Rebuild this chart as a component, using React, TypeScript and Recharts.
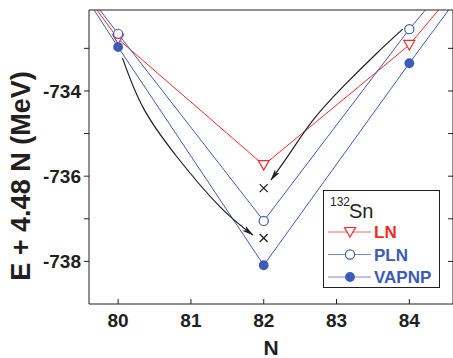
import {
  ComposedChart, Line, Scatter, XAxis, YAxis, Legend,
} from "recharts";

const RED = "#f02a2a";
const BLUE = "#3d5cb4";
const INK = "#231f20";
const FONT = "'Liberation Sans', Arial, sans-serif";

// neutron numbers and energies (MeV)
const N_VALUES = [80, 82, 84];
const LN = [-732.78, -735.74, -732.92];
const PLN = [-732.66, -737.05, -732.55];
const VAPNP = [-732.97, -738.09, -733.35];

// where each curve leaves the frame at the top edge (left, right)
const TOP_E = -732.1;
const LN_EDGE = [79.71, 84.4];
const PLN_EDGE = [79.75, 84.22];
const VAPNP_EDGE = [79.67, 84.54];

// the two "x" marks at N = 82
const CROSS_N = [82, 82];
const CROSS_E = [-736.28, -737.45];

// curved arrows
const ARROW1_N = [80.06, 80.34, 80.81, 81.4, 81.85];
const ARROW1_E = [-733.23, -734.38, -735.55, -736.72, -737.38];
const ARROW2_N = [83.91, 83.55, 83.09, 82.68, 82.36, 82.1];
const ARROW2_E = [-732.55, -733.12, -733.9, -734.68, -735.46, -736.09];

const X_TICKS = [80, 81, 82, 83, 84];
const Y_TICKS = [-738, -737, -736, -735, -734, -733];
const X_DOMAIN = [79.6, 84.6];
const Y_DOMAIN = [-739, -732.1];

const pts = (ns: number[], es: number[]) => ns.map((n, i) => ({ n, e: es[i] }));
const curve = (edge: number[], vals: number[]) => [
  { n: edge[0], e: TOP_E },
  ...pts(N_VALUES, vals),
  { n: edge[1], e: TOP_E },
];

const TriDown = (p: any) => (
  <polygon
    points={`${p.cx - 5.5},${p.cy - 4.5} ${p.cx + 5.5},${p.cy - 4.5} ${p.cx},${p.cy + 5}`}
    fill="#fff" stroke={RED} strokeWidth={1.2}
  />
);
const OpenDot = (p: any) => <circle cx={p.cx} cy={p.cy} r={4.6} fill="#fff" stroke={BLUE} strokeWidth={1.2} />;
const FullDot = (p: any) => <circle cx={p.cx} cy={p.cy} r={4.9} fill={BLUE} />;
const Cross = (p: any) => (
  <g stroke={INK} strokeWidth={1.3}>
    <line x1={p.cx - 4} y1={p.cy - 4} x2={p.cx + 4} y2={p.cy + 4} />
    <line x1={p.cx - 4} y1={p.cy + 4} x2={p.cx + 4} y2={p.cy - 4} />
  </g>
);

const YLabel = () => (
  <text x={21} y={176} transform="rotate(-90 21 176)" textAnchor="middle" dominantBaseline="central"
    fontFamily={FONT} fontWeight="bold" fontSize={27} fill={INK}>
    E + 4.48 N (MeV)
  </text>
);
const XLabel = () => (
  <text x={271} y={355} textAnchor="middle"
    fontFamily={FONT} fontWeight="bold" fontSize={21} fill={INK}>
    N
  </text>
);

const LEGEND_ROWS = [
  { name: "LN", color: RED, Marker: TriDown },
  { name: "PLN", color: BLUE, Marker: OpenDot },
  { name: "VAPNP", color: BLUE, Marker: FullDot },
];

const LegendBox = () => (
  <svg width={118} height={99} style={{ display: "block" }}>
    <rect x={0.5} y={0.5} width={116} height={97} fill="#fff" stroke={INK} strokeWidth={1} />
    <text x={7} y={16} fontFamily={FONT} fontSize={12} fill={INK}>132</text>
    <text x={26} y={28} fontFamily={FONT} fontSize={20} fill={INK}>Sn</text>
    {LEGEND_ROWS.map((r, i) => {
      const y = 42 + i * 22.5;
      return (
        <g key={r.name}>
          <line x1={5} x2={48} y1={y} y2={y} stroke={r.color} strokeWidth={1} opacity={0.7} />
          <r.Marker cx={27} cy={y} />
          <text x={51} y={y + 6} fontFamily={FONT} fontWeight="bold" fontSize={17} fill={r.color}>{r.name}</text>
        </g>
      );
    })}
  </svg>
);

const tickStyle = { fontFamily: FONT, fontWeight: "bold", fontSize: 19, fill: INK };

export default function App() {
  return (
    <div style={{ position: "absolute", left: 0, top: 0, background: "#fff" }}>
      <svg width={0} height={0} style={{ position: "absolute" }}>
        <defs>
          <marker id="arrowHead" viewBox="0 0 12 6" refX={11} refY={3} markerWidth={12} markerHeight={6}
            markerUnits="userSpaceOnUse" orient="auto">
            <path d="M0,0 L12,3 L0,6 L3,3 z" fill={INK} />
          </marker>
        </defs>
      </svg>
      <ComposedChart width={453} height={358} margin={{ top: 10, right: 0, bottom: 0, left: 0 }}>
        <XAxis
          dataKey="n" type="number" domain={X_DOMAIN} ticks={X_TICKS} allowDataOverflow
          height={54} tickSize={-5} tickMargin={15} tick={tickStyle}
          axisLine={{ stroke: INK }} tickLine={{ stroke: INK }} label={<XLabel />}
        />
        <XAxis
          xAxisId="top" orientation="top" mirror type="number" domain={X_DOMAIN} ticks={X_TICKS}
          allowDataOverflow tickSize={5} tickFormatter={() => ""}
          axisLine={{ stroke: INK }} tickLine={{ stroke: INK }}
        />
        <YAxis
          dataKey="e" type="number" domain={Y_DOMAIN} ticks={Y_TICKS} allowDataOverflow
          width={89} tickSize={5} tickMargin={3} tick={tickStyle}
          tickFormatter={(v: number) => (v % 2 === 0 ? String(v) : "")}
          axisLine={{ stroke: INK }} tickLine={{ stroke: INK }} label={<YLabel />}
        />
        <YAxis
          yAxisId="right" orientation="right" mirror type="number" domain={Y_DOMAIN} ticks={Y_TICKS}
          allowDataOverflow tickSize={5} tickFormatter={() => ""}
          axisLine={{ stroke: INK }} tickLine={{ stroke: INK }}
        />

        <Line data={curve(LN_EDGE, LN)} dataKey="e" type="linear" stroke={RED} strokeWidth={1} dot={false} isAnimationActive={false} />
        <Line data={curve(PLN_EDGE, PLN)} dataKey="e" type="linear" stroke={BLUE} strokeWidth={1} dot={false} isAnimationActive={false} />
        <Line data={curve(VAPNP_EDGE, VAPNP)} dataKey="e" type="linear" stroke={BLUE} strokeWidth={1} dot={false} isAnimationActive={false} />

        <Line data={pts(ARROW1_N, ARROW1_E)} dataKey="e" type="natural" stroke={INK} strokeWidth={1.2} dot={false}
          markerEnd="url(#arrowHead)" isAnimationActive={false} />
        <Line data={pts(ARROW2_N, ARROW2_E)} dataKey="e" type="natural" stroke={INK} strokeWidth={1.2} dot={false}
          markerEnd="url(#arrowHead)" isAnimationActive={false} />

        <Scatter data={pts(CROSS_N, CROSS_E)} dataKey="e" shape={Cross} isAnimationActive={false} />
        <Scatter data={pts(N_VALUES, LN)} dataKey="e" shape={TriDown} isAnimationActive={false} />
        <Scatter data={pts(N_VALUES, PLN)} dataKey="e" shape={OpenDot} isAnimationActive={false} />
        <Scatter data={pts(N_VALUES, VAPNP)} dataKey="e" shape={FullDot} isAnimationActive={false} />

        <Legend
          layout="vertical" align="center" verticalAlign="middle" content={<LegendBox />}
          wrapperStyle={{ left: 323, top: 190, width: 118, height: 99 }}
        />
      </ComposedChart>
    </div>
  );
}
